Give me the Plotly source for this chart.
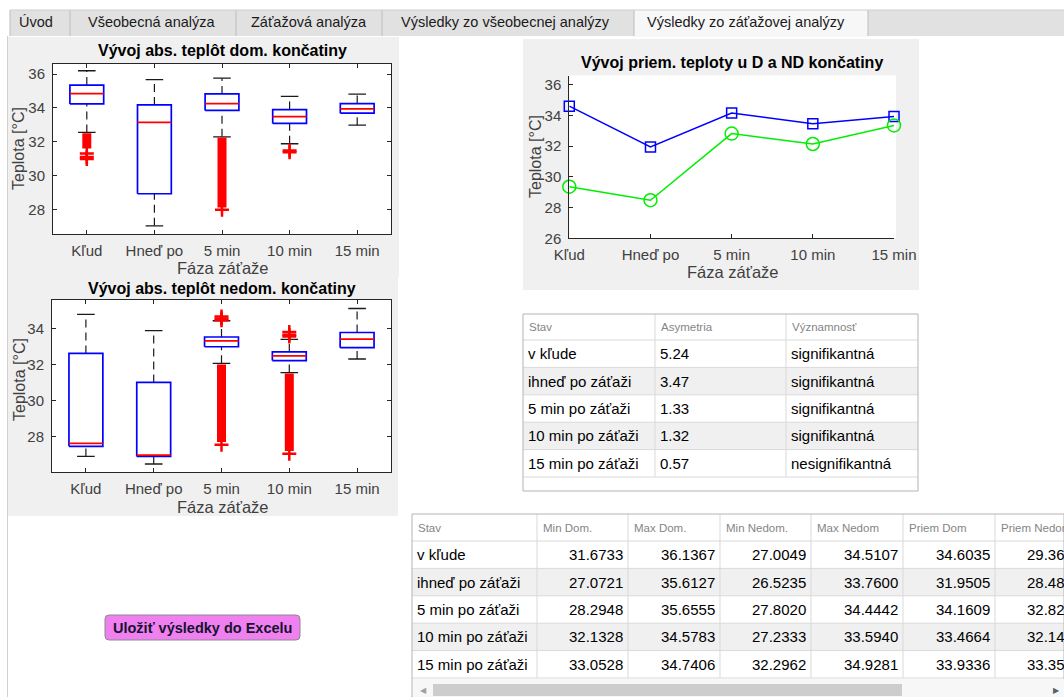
import plotly.graph_objects as go

W, H = 1064, 697
FONT = "Liberation Sans, Arial, sans-serif"

categories = ["Kľud", "Hneď po", "5 min", "10 min", "15 min"]

# Dominant limb: box-plot statistics per phase
dom_upper_whisker = [36.20, 35.68, 35.76, 34.68, 34.82]
dom_q3 = [35.35, 34.18, 34.83, 33.90, 34.26]
dom_median = [34.85, 33.14, 34.26, 33.49, 33.95]
dom_q1 = [34.24, 28.92, 33.85, 33.08, 33.69]
dom_lower_whisker = [32.55, 27.02, 32.29, 31.88, 32.98]
dom_outlier_runs = [(31.60, 32.50), None, (28.10, 32.25), None, None]
dom_outliers = [[31.30, 31.10, 30.98], [], [27.98], [31.48, 31.38], []]

# Non-dominant limb: box-plot statistics per phase
nd_upper_whisker = [34.77, 33.87, 34.42, 33.39, 35.10]
nd_q3 = [32.61, 31.00, 33.52, 32.69, 33.77]
nd_median = [27.62, 26.97, 33.30, 32.47, 33.40]
nd_q1 = [27.46, 26.90, 32.98, 32.21, 32.93]
nd_lower_whisker = [26.90, 26.48, 32.06, 31.55, 32.30]
nd_outlier_runs = [None, None, (27.70, 32.00), (27.20, 31.50), None]
nd_outliers = [[], [], [34.45, 34.55, 34.65, 27.55], [33.55, 33.65, 33.80, 27.05], []]

# Table values
states = ["v kľude", "ihneď po záťaži", "5 min po záťaži", "10 min po záťaži", "15 min po záťaži"]
asymmetry = [5.24, 3.47, 1.33, 1.32, 0.57]
significance = ["signifikantná", "signifikantná", "signifikantná", "signifikantná", "nesignifikantná"]
min_dom = [31.6733, 27.0721, 28.2948, 32.1328, 33.0528]
max_dom = [36.1367, 35.6127, 35.6555, 34.5783, 34.7406]
min_nondom = [27.0049, 26.5235, 27.8020, 27.2333, 32.2962]
max_nondom = [34.5107, 33.7600, 34.4442, 33.5940, 34.9281]
mean_dom = [34.6035, 31.9505, 34.1609, 33.4664, 33.9336]
mean_nondom = [29.36, 28.48, 32.82, 32.14, 33.35]

tab_labels = ["Úvod", "Všeobecná analýza", "Záťažová analýza",
              "Výsledky zo všeobecnej analýzy", "Výsledky zo záťažovej analýzy"]
table1_header = ["Stav", "Asymetria", "Významnosť"]
table2_header = ["Stav", "Min Dom.", "Max Dom.", "Min Nedom.", "Max Nedom", "Priem Dom", "Priem Nedom"]


def px(x):
    return x / W


def py(y):
    return 1 - y / H


def cx_(x):
    return px(min(x, W))


def cy_(y):
    return py(min(y, H))


fig = go.Figure()
shapes = []
annotations = []


def rect(x0, y0, x1, y1, fill=None, line=None, lw=1):
    shapes.append(dict(type="rect", xref="paper", yref="paper",
                       x0=cx_(x0), x1=cx_(x1), y0=cy_(y1), y1=cy_(y0),
                       fillcolor=fill if fill else "rgba(0,0,0,0)",
                       line=dict(color=line if line else "rgba(0,0,0,0)", width=lw if line else 0),
                       layer="below"))


def hline(x0, x1, y, color, lw=1, layer="below"):
    shapes.append(dict(type="line", xref="paper", yref="paper",
                       x0=cx_(x0), x1=cx_(x1), y0=cy_(y), y1=cy_(y),
                       line=dict(color=color, width=lw), layer=layer))


def vline(x, y0, y1, color, lw=1, layer="below"):
    shapes.append(dict(type="line", xref="paper", yref="paper",
                       x0=cx_(x), x1=cx_(x), y0=cy_(y0), y1=cy_(y1),
                       line=dict(color=color, width=lw), layer=layer))


def text(x, y, s, size=14, color="#000000", xanchor="center", yanchor="middle",
         bold=False, angle=0):
    annotations.append(dict(xref="paper", yref="paper", x=px(x), y=py(y),
                            text=f"<b>{s}</b>" if bold else s, showarrow=False,
                            xanchor=xanchor, yanchor=yanchor, textangle=angle,
                            font=dict(family=FONT, size=size, color=color)))


# ---- tab strip ----
tab_edges = [10, 70, 236, 382, 634, 868]
tab_text_x = [17, 86, 249, 399, 645]
rect(10, 10, 1064, 36, fill="#e1e1e1")
rect(634, 10, 868, 37, fill="#f7f7f7")
for e in tab_edges:
    vline(e, 10, 36, "#bdbdbd")
hline(10, 1064, 10, "#cfcfcf")
for lbl, tx in zip(tab_labels, tab_text_x):
    text(tx, 22, lbl, size=14.5, color="#1a1a1a", xanchor="left")
vline(7.5, 36, 697, "#d0d0d0")

# ---- chart panels ----
rect(8, 37, 399, 277, fill="#f0f0f0")
rect(8, 277, 398, 516, fill="#f0f0f0")
rect(523, 39, 919, 290, fill="#f0f0f0")

box1 = dict(x=(53, 391), y=(63.5, 234.3), yr=(26.52, 36.63), ticks=[28, 30, 32, 34, 36])
box2 = dict(x=(52, 391), y=(300, 472.3), yr=(26.02, 35.57), ticks=[28, 30, 32, 34])
line_ax = dict(x=(569.3, 894), y=(75.5, 238.3), yr=(26, 36.6), ticks=[26, 28, 30, 32, 34, 36])

rect(box1["x"][0], box1["y"][0], box1["x"][1], box1["y"][1], fill="#ffffff")
rect(box2["x"][0], box2["y"][0], box2["x"][1], box2["y"][1], fill="#ffffff")
rect(line_ax["x"][0], line_ax["y"][0], 896, line_ax["y"][1], fill="#ffffff")


def add_boxplot(xa, ya, upper, q3, med, q1, lower, runs, outs):
    hw, cw = 0.25, 0.13
    bx, by, wx, wy, cx, cy, mx, my = [], [], [], [], [], [], [], []
    rx, ry, ox, oy = [], [], [], []
    for i in range(len(categories)):
        c = i + 1
        bx += [c - hw, c + hw, c + hw, c - hw, c - hw, None]
        by += [q1[i], q1[i], q3[i], q3[i], q1[i], None]
        wx += [c, c, None, c, c, None]
        wy += [q3[i], upper[i], None, lower[i], q1[i], None]
        cx += [c - cw, c + cw, None, c - cw, c + cw, None]
        cy += [upper[i], upper[i], None, lower[i], lower[i], None]
        mx += [c - hw, c + hw, None]
        my += [med[i], med[i], None]
        if runs[i]:
            rx += [c, c, None]
            ry += [runs[i][0], runs[i][1], None]
        for v in outs[i]:
            ox.append(c)
            oy.append(v)
    common = dict(xaxis=xa, yaxis=ya, hoverinfo="skip", showlegend=False)
    fig.add_trace(go.Scatter(x=wx, y=wy, mode="lines",
                             line=dict(color="#1a1a1a", width=1.2, dash="8px,5px"), **common))
    fig.add_trace(go.Scatter(x=cx, y=cy, mode="lines",
                             line=dict(color="#1a1a1a", width=1.3), **common))
    fig.add_trace(go.Scatter(x=bx, y=by, mode="lines",
                             line=dict(color="#0000ff", width=1.7), **common))
    fig.add_trace(go.Scatter(x=mx, y=my, mode="lines",
                             line=dict(color="#ff0000", width=1.7), **common))
    fig.add_trace(go.Scatter(x=rx, y=ry, mode="lines",
                             line=dict(color="#ff0000", width=9), **common))
    fig.add_trace(go.Scatter(x=ox, y=oy, mode="markers", cliponaxis=False,
                             marker=dict(symbol="cross-thin-open", size=10, color="#ff0000",
                                         line=dict(color="#ff0000", width=2.5)), **common))


add_boxplot("x", "y", dom_upper_whisker, dom_q3, dom_median, dom_q1, dom_lower_whisker,
            dom_outlier_runs, dom_outliers)
add_boxplot("x2", "y2", nd_upper_whisker, nd_q3, nd_median, nd_q1, nd_lower_whisker,
            nd_outlier_runs, nd_outliers)

# mean temperature lines
xs = list(range(1, len(categories) + 1))
fig.add_trace(go.Scatter(x=xs, y=mean_dom, xaxis="x3", yaxis="y3", mode="lines+markers",
                         cliponaxis=False, hoverinfo="skip", showlegend=False,
                         line=dict(color="#0000ff", width=1.5),
                         marker=dict(symbol="square-open", size=10, color="#0000ff",
                                     line=dict(color="#0000ff", width=1.5))))
fig.add_trace(go.Scatter(x=xs, y=mean_nondom, xaxis="x3", yaxis="y3", mode="lines+markers",
                         cliponaxis=False, hoverinfo="skip", showlegend=False,
                         line=dict(color="#00ee00", width=1.5),
                         marker=dict(symbol="circle-open", size=13, color="#00ee00",
                                     line=dict(color="#00ee00", width=1.5))))

tickfont = dict(family=FONT, size=15, color="#404040")


def xaxis_cfg(ax, rng, mirror, anchor):
    return dict(domain=[px(ax["x"][0]), px(ax["x"][1])], range=list(rng),
                tickvals=xs, ticktext=categories, ticks="inside", ticklen=4,
                tickcolor="#262626", showline=True, linecolor="#262626", linewidth=1,
                mirror=mirror, showgrid=False, zeroline=False, tickfont=tickfont,
                anchor=anchor, fixedrange=True, ticklabelstandoff=3)


def yaxis_cfg(ax, mirror, anchor):
    return dict(domain=[py(ax["y"][1]), py(ax["y"][0])], range=list(ax["yr"]),
                tickvals=ax["ticks"], ticks="inside", ticklen=4,
                tickcolor="#262626", showline=True, linecolor="#262626", linewidth=1,
                mirror=mirror, showgrid=False, zeroline=False, tickfont=tickfont,
                anchor=anchor, fixedrange=True, ticklabelstandoff=4)


fig.update_layout(
    xaxis=xaxis_cfg(box1, (0.5, 5.5), "allticks", "y"),
    yaxis=yaxis_cfg(box1, "allticks", "x"),
    xaxis2=xaxis_cfg(box2, (0.5, 5.5), "allticks", "y2"),
    yaxis2=yaxis_cfg(box2, "allticks", "x2"),
    xaxis3=xaxis_cfg(line_ax, (1, 5), False, "y3"),
    yaxis3=yaxis_cfg(line_ax, False, "x3"),
)

# chart titles and axis labels
text(222, 50, "Vývoj abs. teplôt dom. končatiny", size=16, bold=True)
text(19, 149, "Teplota [°C]", size=16, color="#404040", angle=-90)
text(222, 268, "Fáza záťaže", size=16.5, color="#404040")
text(222, 289, "Vývoj abs. teplôt nedom. končatiny", size=16, bold=True)
text(19, 380, "Teplota [°C]", size=16, color="#404040", angle=-90)
text(222, 507, "Fáza záťaže", size=16.5, color="#404040")
text(732, 62, "Vývoj priem. teploty u D a ND končatiny", size=16, bold=True)
text(536, 157, "Teplota [°C]", size=16, color="#404040", angle=-90)
text(732, 272, "Fáza záťaže", size=16.5, color="#404040")

# ---- save button ----
bx0, bx1, by0, by1, r = 105, 300, 615, 640, 4
path = (f"M {px(bx0 + r)},{py(by0)} L {px(bx1 - r)},{py(by0)} "
        f"Q {px(bx1)},{py(by0)} {px(bx1)},{py(by0 + r)} L {px(bx1)},{py(by1 - r)} "
        f"Q {px(bx1)},{py(by1)} {px(bx1 - r)},{py(by1)} L {px(bx0 + r)},{py(by1)} "
        f"Q {px(bx0)},{py(by1)} {px(bx0)},{py(by1 - r)} L {px(bx0)},{py(by0 + r)} "
        f"Q {px(bx0)},{py(by0)} {px(bx0 + r)},{py(by0)} Z")
shapes.append(dict(type="path", xref="paper", yref="paper", path=path,
                   fillcolor="#f080f0", line=dict(color="#8a8a8a", width=1), layer="below"))
text((bx0 + bx1) / 2, (by0 + by1) / 2 + 0.5, "Uložiť výsledky do Excelu", size=14.5,
     color="#14142e", bold=True)

# ---- tables ----
ROW_H = 27.4
GRID = "#d9d9d9"
BORDER = "#b4b4b4"
HEAD_COLOR = "#858585"


def draw_table(left, top, head_h, col_edges, header, rows, aligns, bottom, right_clip):
    n = len(rows)
    body_top = top + head_h
    body_bottom = body_top + n * ROW_H
    rect(left, top, right_clip, bottom, fill="#ffffff")
    for k in range(n):
        y0 = body_top + k * ROW_H
        if k % 2 == 1:
            rect(left, y0, right_clip, y0 + ROW_H, fill="#f0f0f0")
        hline(left, right_clip, y0, GRID)
    hline(left, right_clip, body_bottom, GRID)
    for e in col_edges[1:-1]:
        vline(e, top, body_bottom, GRID)
    rect(left, top, right_clip, bottom, line=BORDER)
    for j, h in enumerate(header):
        text(col_edges[j] + 4, top + head_h / 2, h, size=11.5, color=HEAD_COLOR, xanchor="left")
    for k, row in enumerate(rows):
        yc = body_top + k * ROW_H + ROW_H / 2
        for j, cell in enumerate(row):
            if aligns[j] == "left":
                text(col_edges[j] + 3, yc, cell, size=15, xanchor="left")
            else:
                text(col_edges[j + 1] - 3, yc, cell, size=15, xanchor="right")


t1_rows = [[s, f"{a:.2f}", g] for s, a, g in zip(states, asymmetry, significance)]
draw_table(523, 314, 26, [523, 655, 786, 918], table1_header, t1_rows,
           ["left", "left", "left"], 491, 918)

t2_rows = [[s, f"{a:.4f}", f"{b:.4f}", f"{c:.4f}", f"{d:.4f}", f"{e:.4f}", f"{f:.4f}"]
           for s, a, b, c, d, e, f in zip(states, min_dom, max_dom, min_nondom, max_nondom,
                                          mean_dom, mean_nondom)]
t2_edges = [412, 537, 628, 720, 811, 903, 995, 1086]
draw_table(412, 514, 27, t2_edges, table2_header, t2_rows,
           ["left"] + ["right"] * 6, 700, 1090)

# horizontal scrollbar
rect(413, 679, 1064, 697, fill="#f7f7f7")
rect(433, 684, 902, 696, fill="#cdcdcd")
text(423, 690, "◀", size=8, color="#a0a0a0")
text(1056, 690, "▶", size=8, color="#606060")

fig.update_layout(
    width=W, height=H, margin=dict(l=0, r=0, t=0, b=0, autoexpand=False),
    paper_bgcolor="#ffffff", plot_bgcolor="#ffffff",
    showlegend=False, shapes=shapes, annotations=annotations,
    font=dict(family=FONT),
)

# keep the page exactly the size of the figure; table text past the right edge is cut off
page_css = """
document.body.style.margin = '0';
document.body.style.overflow = 'hidden';
var gd = document.getElementsByClassName('plotly-graph-div')[0];
gd.style.overflow = 'hidden';
gd.querySelectorAll('svg').forEach(function (s) { s.style.overflow = 'hidden'; });
"""

fig.write_html("out.html", config={"displayModeBar": False}, post_script=page_css)
